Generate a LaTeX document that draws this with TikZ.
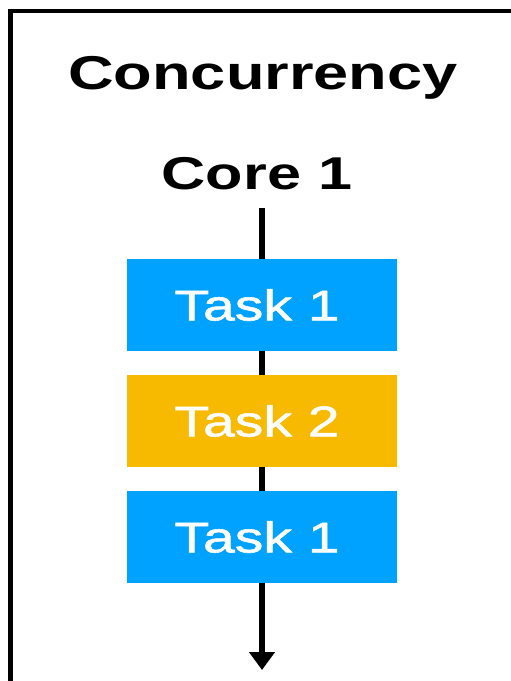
\documentclass[tikz,border=0pt]{standalone}
\usepackage{fontspec}
\setmainfont{Liberation Sans}[FakeStretch=1.33]
\newfontfamily\taskfont{Liberation Sans}[FakeStretch=1.33, FakeBold=1.3]
\usepackage{xcolor}
\usetikzlibrary{arrows.meta,positioning}
\definecolor{taskblue}{HTML}{00A2FF}
\definecolor{taskyellow}{HTML}{F8BA00}

\begin{document}
\begin{tikzpicture}[x=1pt, y=-1pt,
  task/.style={fill=#1, minimum width=270pt, minimum height=92pt, inner sep=0pt,
    text=white, font=\fontsize{43}{43}\taskfont},
  task/.default=taskblue,
  heading/.style={anchor=base, inner sep=0pt, font=\fontsize{#1}{#1}\selectfont\bfseries},
  axis/.style={line width=6pt},
  frame/.style={line width=4.5pt}]
\useasboundingbox (0,0) rectangle (511,681);
\draw[frame] (10.7,681) -- (10.7,10.8) -- (511,10.8);
\node[heading=47.5] (title) at (263,89) {Concurrency};
\node[heading=46] (core) at (257,189) {Core 1};
% tasks on the single core, one after another
\node[task] (t1) at (262,305) {Task 1\kern10pt};
\node[task=taskyellow] (t2) at (262,421) {Task 2\kern10pt};
\node[task] (t3) at (262,537) {Task 1\kern10pt};
\coordinate (start) at (262,208);
\coordinate (finish) at (262,670);
\draw[axis] (start) -- (t1);
\draw[axis] (t1) -- (t2);
\draw[axis] (t2) -- (t3);
\draw[axis, -{Triangle[length=18pt, width=25pt]}] (t3) -- (finish);
\end{tikzpicture}
\end{document}
